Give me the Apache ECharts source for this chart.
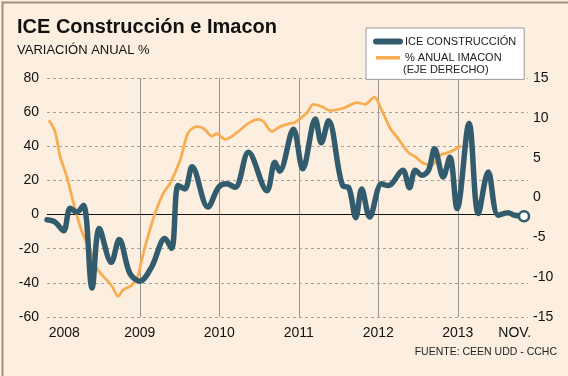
<!DOCTYPE html>
<html>
<head>
<meta charset="utf-8">
<script src="https://cdn.jsdelivr.net/npm/echarts@6/dist/echarts.min.js"></script>
<style>
  html, body { margin: 0; padding: 0; background: #fcefdf; }
  #chart { width: 568px; height: 376px; }
</style>
</head>
<body>
<div id="chart"></div>
<script>
// meses contados desde ene-2008 (0 = ene 2008, 70 = nov 2013)
var iceMonths = [-2, -0.8, 0.5, 1.5, 2.5, 3.5, 4.8, 5.9, 7.7, 8.9, 10.5, 12, 13.8, 15.8, 16.8, 17.8, 18.8, 19.9,
  22.3, 23.9, 25.1, 26.4, 28.4, 31.2, 32.4, 33.1, 35.2, 36.6, 38.5, 39.4, 40.5, 42.7, 43.5, 44.6, 45.5, 46.7,
  48.5, 49.5, 51.7, 52.7, 53.6, 54.6, 55.6, 56.5, 57.8, 58.8, 59.9, 61.7, 63.1, 64.6, 66.1, 67.6, 68.6, 70];
var iceValues = [-3, -4.3, -9.5, 3.7, 1.5, 5.4, -43, -8.2, -28, -14.6, -34.4, -39, -30.6, -14, -19.8, 17, 15, 28,
  4.4, 16, 18, 16, 36.5, 14, 30.7, 25.4, 50, 26.8, 56, 42, 55, 16.5, 16, -1.8, 15, -1.4,
  18, 17, 26, 15.7, 26, 23, 26, 38.5, 22, 33.6, 3.5, 53.4, 0.6, 24.9, -0.4, 1, -0.4, -1];

var imaconMonths = [-1.7, -0.8, 0, 1, 2, 3.2, 4.5, 5.7, 7.3, 8, 8.7, 9.5, 10.8, 11.7, 12.3, 13.1, 14.3, 15.6, 16.6,
  18.1, 19.3, 20.6, 21.6, 22.9, 23.6, 24.9, 26.6, 28.4, 29.9, 30.7, 31.9, 33.2, 34.7, 35.4, 37.2, 38.2, 39.5,
  40.7, 42.7, 44.8, 46, 47.4, 48.5, 49.8, 51, 52.5, 53.6, 54.8, 56.1, 57.3, 58.8, 60.5];
var imaconValues = [9.7, 8.3, 5.1, 2.6, -0.7, -4.1, -6.6, -9.1, -10.6, -11.4, -12.4, -11.6, -11, -9.9, -7.8, -5.3, -2, 0.6, 1.8,
  4.7, 8.1, 8.9, 8.7, 7.7, 8, 7.3, 8.1, 9.3, 9.8, 9.5, 8.3, 8.9, 9.3, 9.4, 10.6, 11.7, 11.4,
  10.9, 11.2, 11.9, 11.7, 12.6, 11, 8.7, 7.4, 5.7, 5.1, 4.3, 4.1, 5.3, 5.7, 6.5];

var yearLines = [12, 24, 36, 48, 60];
var xLabelPos = [0.6, 12, 24, 36, 48, 60, 68.6];
var xLabelText = ['2008', '2009', '2010', '2011', '2012', '2013', 'NOV.'];

var FONT = '"Liberation Sans", Arial, sans-serif';
var ICE_COLOR = '#325c6e';
var IMACON_COLOR = '#f8ad52';

var iceData = iceMonths.map(function (m, i) {
  var item = { value: [m, iceValues[i]] };
  if (i === iceMonths.length - 1) {
    item.symbol = 'circle';
    item.symbolSize = 10;
    item.itemStyle = { color: '#fff', borderColor: ICE_COLOR, borderWidth: 2.5 };
  }
  return item;
});
var imaconData = imaconMonths.map(function (m, i) {
  return [m, imaconValues[i]];
});

var myChart = echarts.init(document.getElementById('chart'));

var option = {
  backgroundColor: '#fcefdf',
  animation: false,
  title: {
    text: 'ICE Construcción e Imacon',
    subtext: 'VARIACIÓN ANUAL %',
    left: 12,
    top: 12,
    itemGap: 7,
    textStyle: { fontFamily: FONT, fontSize: 20, fontWeight: 'bold', color: '#111' },
    subtextStyle: { fontFamily: FONT, fontSize: 13, color: '#111' }
  },
  legend: {
    orient: 'vertical',
    left: 366,
    top: 28,
    padding: [8, 8, 16, 7],
    itemWidth: 24,
    itemHeight: 14,
    itemGap: 5,
    backgroundColor: '#fff',
    borderColor: '#9a9a9a',
    borderWidth: 1,
    borderRadius: 0,
    textStyle: { fontFamily: FONT, fontSize: 11, color: '#222' },
    itemStyle: { opacity: 0 },
    data: [
      { name: 'ICE CONSTRUCCIÓN', lineStyle: { width: 6, cap: 'round' } },
      { name: '% ANUAL IMACON', lineStyle: { width: 3.5 } }
    ]
  },
  graphic: [
    {
      type: 'text', left: 403, top: 64, z: 10,
      style: { text: '(EJE DERECHO)', fontFamily: FONT, fontSize: 11, fill: '#222' }
    },
    {
      type: 'text', right: 11, top: 347,
      style: { text: 'FUENTE: CEEN UDD - CCHC', fontFamily: FONT, fontSize: 10.5, fill: '#222' }
    },
    {
      type: 'rect', left: 0, top: 0, silent: true,
      shape: { x: 0, y: 0, width: 567, height: 375 },
      style: { fill: 'none', stroke: '#a38b7e', lineWidth: 2 }
    }
  ],
  grid: { left: 47, right: 40, top: 78, bottom: 59 },
  xAxis: {
    type: 'value',
    min: -2,
    max: 70.6,
    axisLine: { show: false },
    axisTick: { show: false, customValues: yearLines },
    splitLine: { show: true, lineStyle: { color: '#9a948e', width: 1, type: 'solid' } },
    axisLabel: {
      customValues: xLabelPos,
      margin: 9,
      fontFamily: FONT,
      fontSize: 14,
      color: '#111',
      formatter: function (v) {
        var i = xLabelPos.indexOf(v);
        return i >= 0 ? xLabelText[i] : '';
      }
    }
  },
  yAxis: [
    {
      type: 'value',
      min: -60,
      max: 80,
      interval: 20,
      axisLine: { show: false },
      axisTick: { show: false },
      axisLabel: { margin: 8, fontFamily: FONT, fontSize: 14, color: '#111' },
      splitLine: { lineStyle: { color: '#a8a29c', type: [3, 3], width: 1 } }
    },
    {
      type: 'value',
      min: -15,
      max: 15,
      interval: 5,
      axisLine: { show: false },
      axisTick: { show: false },
      axisLabel: { margin: 5, fontFamily: FONT, fontSize: 14, color: '#111' },
      splitLine: { show: false }
    }
  ],
  series: [
    {
      name: '% ANUAL IMACON',
      type: 'line',
      yAxisIndex: 1,
      data: imaconData,
      smooth: 0.3,
      symbol: 'none',
      z: 3,
      lineStyle: { color: IMACON_COLOR, width: 2.8 },
      itemStyle: { color: IMACON_COLOR }
    },
    {
      name: 'ICE CONSTRUCCIÓN',
      type: 'line',
      yAxisIndex: 0,
      data: iceData,
      smooth: 0.35,
      symbol: 'none',
      z: 5,
      lineStyle: { color: ICE_COLOR, width: 5.5, cap: 'round', join: 'round' },
      itemStyle: { color: ICE_COLOR },
      markLine: {
        silent: true,
        symbol: 'none',
        z: 1,
        label: { show: false },
        lineStyle: { color: '#111', width: 1.2, type: 'solid' },
        data: [{ yAxis: 0 }]
      }
    }
  ]
};

myChart.setOption(option);
</script>
</body>
</html>
